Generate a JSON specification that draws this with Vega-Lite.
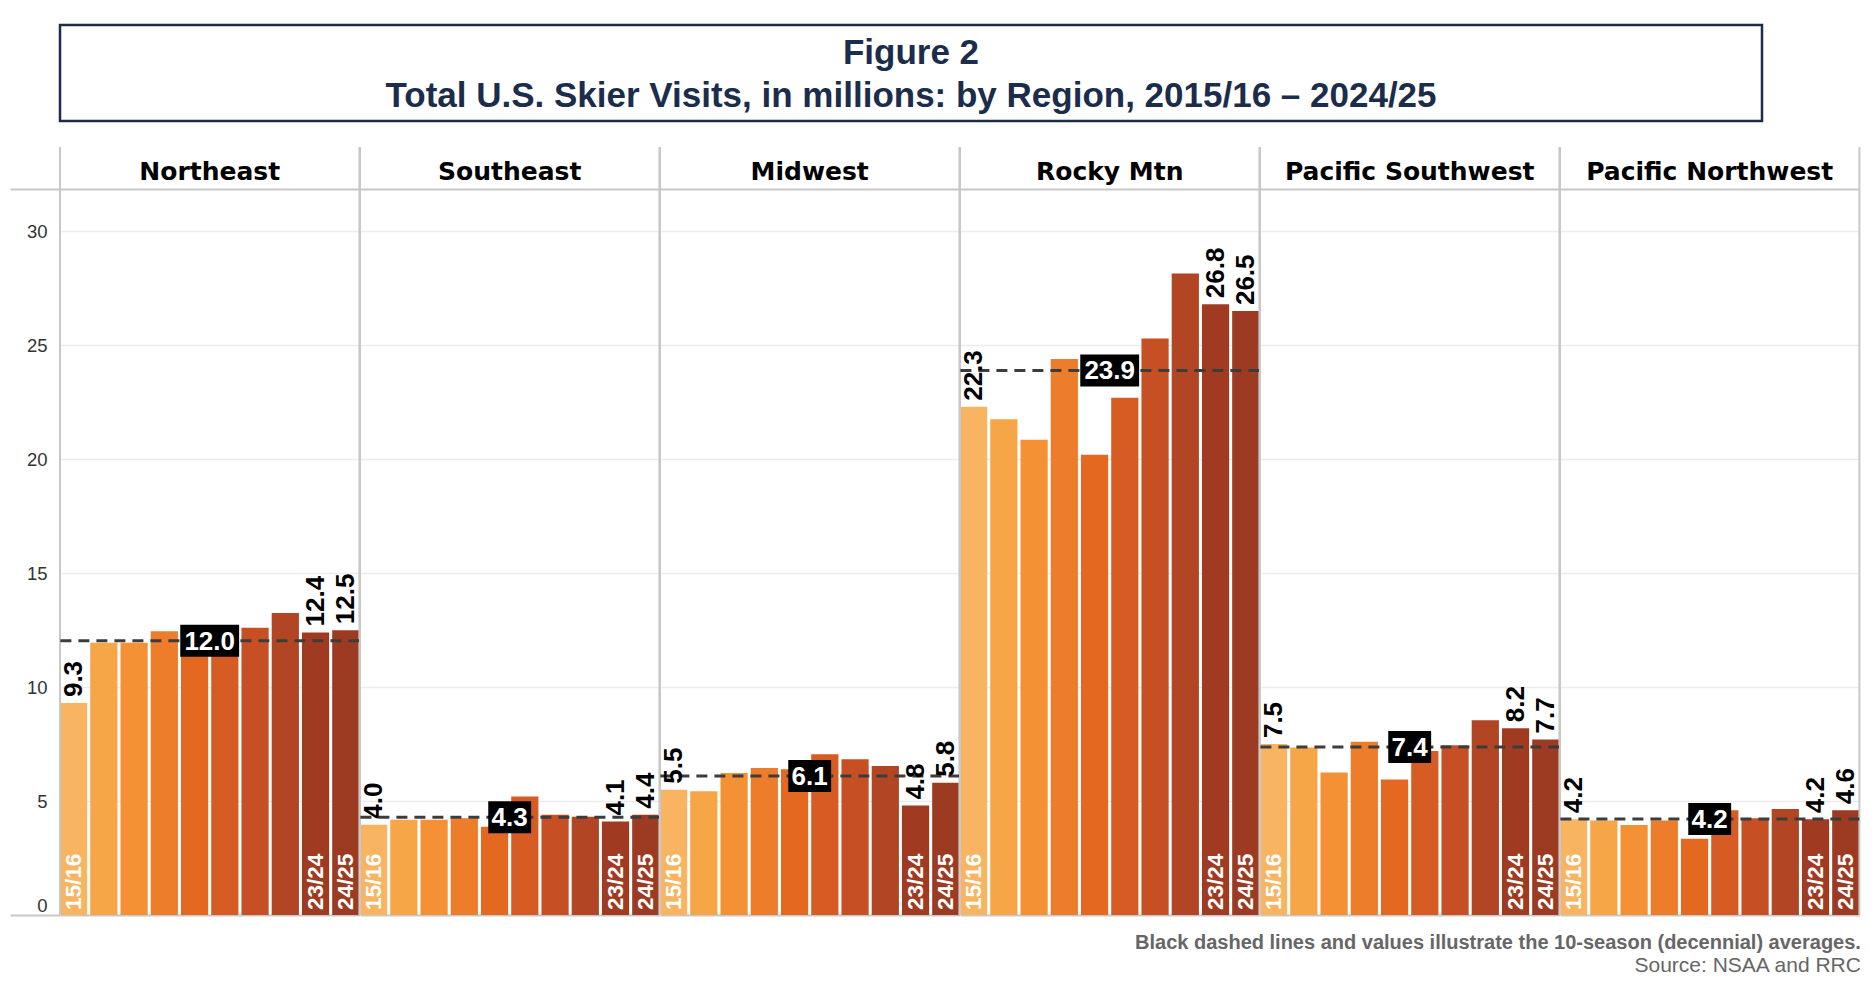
{
  "$schema": "https://vega.github.io/schema/vega-lite/v6.json",
  "padding": {"left": 6, "top": 23, "right": 12, "bottom": 0},
  "background": "white",
  "config": {
    "font": "Liberation Sans",
    "view": {"stroke": null},
    "concat": {"spacing": 23}
  },
  "vconcat": [
    {
      "width": 1702,
      "height": 96,
      "view": {"stroke": "#1b2d4a", "strokeWidth": 2.5},
      "data": {
        "values": [
          {"line": 1, "text": "Figure 2"},
          {"line": 2, "text": "Total U.S. Skier Visits, in millions: by Region, 2015/16 – 2024/25"}
        ]
      },
      "mark": {"type": "text", "fontSize": 35, "fontWeight": "bold", "color": "#1b2d4a", "baseline": "middle", "dy": 1.5},
      "encoding": {
        "text": {"field": "text"},
        "y": {
          "field": "line",
          "type": "ordinal",
          "scale": {"padding": 0.616},
          "axis": {"labels": false, "ticks": false, "domain": false, "grid": false, "title": null, "minExtent": 52, "maxExtent": 52}
        }
      }
    },
    {
      "data": {
        "values": [
          {"region": "Northeast", "season": "15/16", "visits": 9.3},
          {"region": "Northeast", "season": "16/17", "visits": 11.95},
          {"region": "Northeast", "season": "17/18", "visits": 11.95},
          {"region": "Northeast", "season": "18/19", "visits": 12.45},
          {"region": "Northeast", "season": "19/20", "visits": 11.85},
          {"region": "Northeast", "season": "20/21", "visits": 12.1},
          {"region": "Northeast", "season": "21/22", "visits": 12.6},
          {"region": "Northeast", "season": "22/23", "visits": 13.25},
          {"region": "Northeast", "season": "23/24", "visits": 12.4},
          {"region": "Northeast", "season": "24/25", "visits": 12.5},
          {"region": "Southeast", "season": "15/16", "visits": 3.96},
          {"region": "Southeast", "season": "16/17", "visits": 4.18},
          {"region": "Southeast", "season": "17/18", "visits": 4.18},
          {"region": "Southeast", "season": "18/19", "visits": 4.24},
          {"region": "Southeast", "season": "19/20", "visits": 3.87},
          {"region": "Southeast", "season": "20/21", "visits": 5.2},
          {"region": "Southeast", "season": "21/22", "visits": 4.4},
          {"region": "Southeast", "season": "22/23", "visits": 4.31},
          {"region": "Southeast", "season": "23/24", "visits": 4.1},
          {"region": "Southeast", "season": "24/25", "visits": 4.4},
          {"region": "Midwest", "season": "15/16", "visits": 5.5},
          {"region": "Midwest", "season": "16/17", "visits": 5.43},
          {"region": "Midwest", "season": "17/18", "visits": 6.23},
          {"region": "Midwest", "season": "18/19", "visits": 6.45},
          {"region": "Midwest", "season": "19/20", "visits": 6.4},
          {"region": "Midwest", "season": "20/21", "visits": 7.05},
          {"region": "Midwest", "season": "21/22", "visits": 6.83},
          {"region": "Midwest", "season": "22/23", "visits": 6.54},
          {"region": "Midwest", "season": "23/24", "visits": 4.8},
          {"region": "Midwest", "season": "24/25", "visits": 5.8},
          {"region": "Rocky Mtn", "season": "15/16", "visits": 22.3},
          {"region": "Rocky Mtn", "season": "16/17", "visits": 21.75},
          {"region": "Rocky Mtn", "season": "17/18", "visits": 20.85},
          {"region": "Rocky Mtn", "season": "18/19", "visits": 24.4},
          {"region": "Rocky Mtn", "season": "19/20", "visits": 20.2},
          {"region": "Rocky Mtn", "season": "20/21", "visits": 22.7},
          {"region": "Rocky Mtn", "season": "21/22", "visits": 25.3},
          {"region": "Rocky Mtn", "season": "22/23", "visits": 28.15},
          {"region": "Rocky Mtn", "season": "23/24", "visits": 26.8},
          {"region": "Rocky Mtn", "season": "24/25", "visits": 26.5},
          {"region": "Pacific Southwest", "season": "15/16", "visits": 7.5},
          {"region": "Pacific Southwest", "season": "16/17", "visits": 7.35},
          {"region": "Pacific Southwest", "season": "17/18", "visits": 6.25},
          {"region": "Pacific Southwest", "season": "18/19", "visits": 7.6},
          {"region": "Pacific Southwest", "season": "19/20", "visits": 5.95},
          {"region": "Pacific Southwest", "season": "20/21", "visits": 7.2},
          {"region": "Pacific Southwest", "season": "21/22", "visits": 7.45},
          {"region": "Pacific Southwest", "season": "22/23", "visits": 8.55},
          {"region": "Pacific Southwest", "season": "23/24", "visits": 8.2},
          {"region": "Pacific Southwest", "season": "24/25", "visits": 7.7},
          {"region": "Pacific Northwest", "season": "15/16", "visits": 4.2},
          {"region": "Pacific Northwest", "season": "16/17", "visits": 4.15},
          {"region": "Pacific Northwest", "season": "17/18", "visits": 3.95},
          {"region": "Pacific Northwest", "season": "18/19", "visits": 4.15},
          {"region": "Pacific Northwest", "season": "19/20", "visits": 3.35},
          {"region": "Pacific Northwest", "season": "20/21", "visits": 4.6},
          {"region": "Pacific Northwest", "season": "21/22", "visits": 4.25},
          {"region": "Pacific Northwest", "season": "22/23", "visits": 4.65},
          {"region": "Pacific Northwest", "season": "23/24", "visits": 4.2},
          {"region": "Pacific Northwest", "season": "24/25", "visits": 4.6}
        ]
      },
      "title": {
        "text": "Black dashed lines and values illustrate the 10-season (decennial) averages.",
        "subtitle": "Source: NSAA and RRC",
        "orient": "bottom",
        "anchor": "end",
        "font": "Liberation Sans",
        "fontSize": 20,
        "fontWeight": "bold",
        "color": "#666666",
        "subtitleFont": "Liberation Sans",
        "subtitleFontSize": 21,
        "subtitleFontWeight": "normal",
        "subtitleColor": "#666666",
        "subtitlePadding": 2,
        "offset": 17
      },
      "facet": {
        "column": {
          "field": "region",
          "type": "nominal",
          "sort": ["Northeast", "Southeast", "Midwest", "Rocky Mtn", "Pacific Southwest", "Pacific Northwest"],
          "header": {"labels": false, "title": null}
        }
      },
      "spacing": 0,
      "bounds": "flush",
      "spec": {
        "width": 299.4,
        "height": 768,
        "layer": [
          {
            "mark": {"type": "bar"},
            "encoding": {
              "x": {
                "field": "season",
                "type": "nominal",
                "scale": {"paddingInner": 0.1, "paddingOuter": 0},
                "axis": null
              },
              "y": {
                "field": "visits",
                "type": "quantitative",
                "scale": {"domain": [0, 33.7], "nice": false},
                "axis": {
                  "title": null,
                  "values": [0, 5, 10, 15, 20, 25, 30, 31.85],
                  "labelExpr": "datum.value > 31 ? '' : datum.label",
                  "domain": false,
                  "ticks": true,
                  "tickSize": 50,
                  "tickColor": "#c8c8c8",
                  "tickWidth": 2,
                  "tickOpacity": {"condition": {"test": "datum.value === 0 || datum.value > 31", "value": 1}, "value": 0},
                  "labelPadding": -37,
                  "labelFontSize": 18.5,
                  "labelColor": "#333333",
                  "labelFlush": true,
                  "grid": true,
                  "gridColor": {"condition": {"test": "datum.value === 0 || datum.value > 31", "value": "#c8c8c8"}, "value": "#ececec"},
                  "gridWidth": {"condition": {"test": "datum.value === 0 || datum.value > 31", "value": 2}, "value": 1.5}
                }
              },
              "color": {
                "field": "season",
                "type": "nominal",
                "legend": null,
                "scale": {
                  "domain": ["15/16", "16/17", "17/18", "18/19", "19/20", "20/21", "21/22", "22/23", "23/24", "24/25"],
                  "range": ["#f9b462", "#f6a646", "#f39134", "#ee7d2b", "#e56820", "#d65c24", "#c65024", "#b24523", "#a03b22", "#9d3a22"]
                }
              }
            }
          },
          {
            "transform": [{"filter": {"field": "season", "equal": "15/16"}}],
            "mark": {"type": "rule", "color": "#c8c8c8", "strokeWidth": 2},
            "encoding": {"x": {"field": "season", "type": "nominal", "bandPosition": 0}}
          },
          {
            "transform": [{"filter": {"field": "season", "equal": "24/25"}}],
            "mark": {"type": "rule", "color": "#c8c8c8", "strokeWidth": 2},
            "encoding": {"x": {"field": "season", "type": "nominal", "bandPosition": 1}}
          },
          {
            "transform": [{"filter": {"field": "season", "equal": "15/16"}}],
            "mark": {"type": "text", "font": "DejaVu Sans", "fontSize": 25, "fontWeight": "bold", "color": "black", "baseline": "middle"},
            "encoding": {
              "text": {"field": "region"},
              "y": {"datum": 32.6}
            }
          },
          {
            "mark": {"type": "rule", "color": "#3c3c3c", "strokeWidth": 3, "strokeDash": [11, 7]},
            "encoding": {"y": {"aggregate": "mean", "field": "visits", "type": "quantitative"}}
          },
          {
            "mark": {"type": "point", "filled": true, "color": "black", "opacity": 1, "size": 1024, "strokeWidth": 0},
            "encoding": {
              "y": {"aggregate": "mean", "field": "visits", "type": "quantitative"},
              "shape": {
                "condition": {"test": "datum.mean_visits >= 10", "value": "M-1.84,-1L1.84,-1L1.84,1L-1.84,1Z"},
                "value": "M-1.34,-1L1.34,-1L1.34,1L-1.34,1Z"
              }
            }
          },
          {
            "mark": {"type": "text", "fontSize": 26, "fontWeight": "bold", "color": "white", "baseline": "middle", "dy": 1},
            "encoding": {
              "y": {"aggregate": "mean", "field": "visits", "type": "quantitative"},
              "text": {"aggregate": "mean", "field": "visits", "type": "quantitative", "format": ".1f"}
            }
          },
          {
            "transform": [{"filter": {"field": "season", "oneOf": ["15/16", "23/24", "24/25"]}}],
            "mark": {"type": "text", "fontSize": 26, "fontWeight": "bold", "color": "black", "angle": 270, "align": "left", "baseline": "middle", "dx": 6},
            "encoding": {
              "x": {"field": "season", "type": "nominal"},
              "y": {"field": "visits", "type": "quantitative"},
              "text": {"field": "visits", "type": "quantitative", "format": ".1f"}
            }
          },
          {
            "transform": [{"filter": {"field": "season", "oneOf": ["15/16", "23/24", "24/25"]}}],
            "mark": {"type": "text", "fontSize": 22.5, "fontWeight": "bold", "color": "white", "angle": 270, "align": "left", "baseline": "middle", "dx": 5},
            "encoding": {
              "x": {"field": "season", "type": "nominal"},
              "y": {"datum": 0},
              "text": {"field": "season"}
            }
          }
        ]
      }
    }
  ]
}
